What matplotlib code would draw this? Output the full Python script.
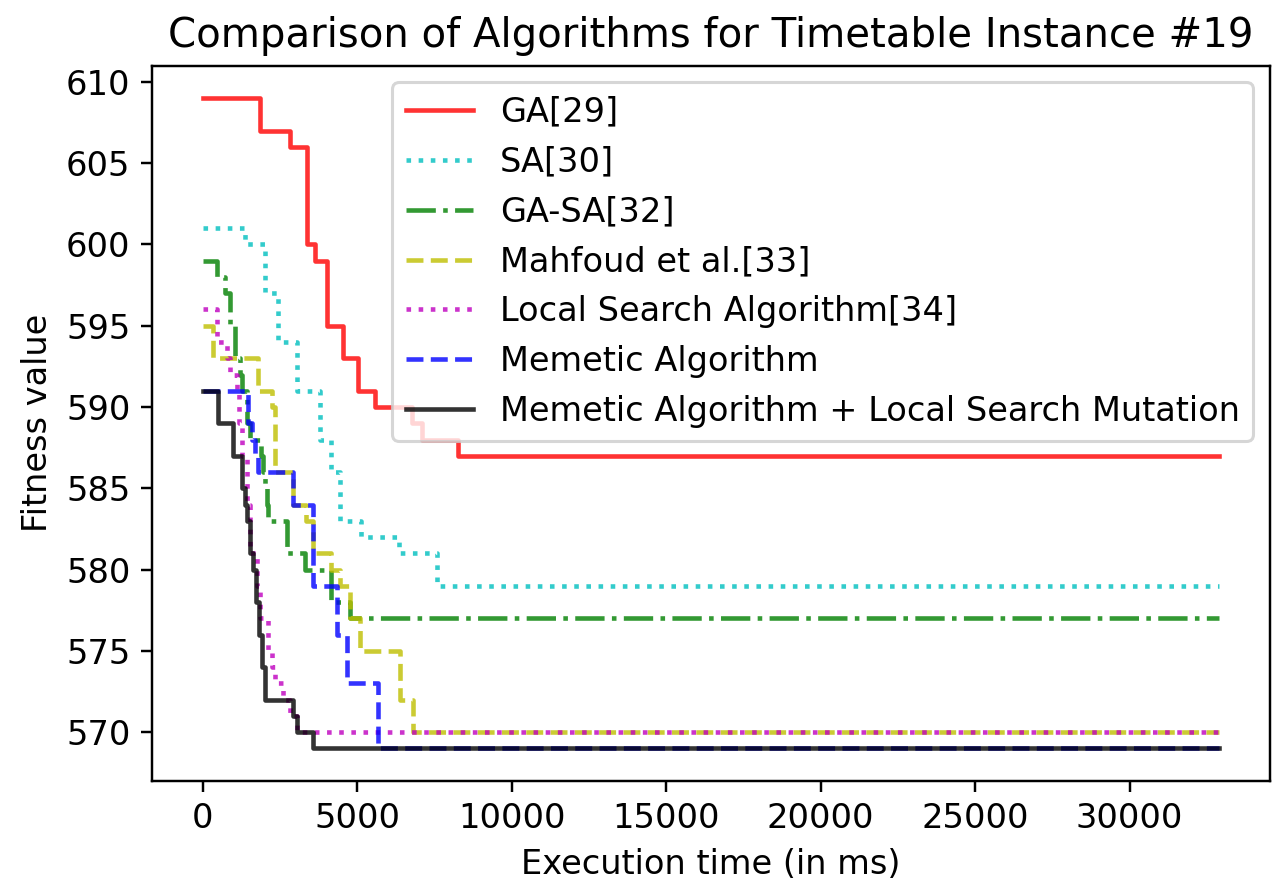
# comparacion de algoritmos - curvas de fitness escalonadas
import matplotlib
matplotlib.use("Agg")
import matplotlib.pyplot as plt

# tiempo final de la ejecucion (ms)
t_fin = 32900

# ---------------- datos ----------------
ga_x = [0, 1845, 2826, 3368, 3625, 4006, 4539, 5025, 5568, 6767, 7091, 8252, t_fin]
ga_y = [609, 607, 606, 600, 599, 595, 593, 591, 590, 589, 588, 587, 587]

sa_x = [0, 1360, 2007, 2445, 3064, 3778, 4159, 4444, 5111, 6348, 7586, t_fin]
sa_y = [601, 600, 597, 594, 591, 588, 586, 583, 582, 581, 579, 579]

gasa_x = [0, 446, 731, 874, 1036, 1198, 1255, 1445, 1541, 1874, 1940, 2017, 2064,
          2102, 2721, 3302, 4159, 4758, t_fin]
gasa_y = [599, 598, 597, 595, 593, 592, 591, 589, 588, 587, 586, 585, 584,
          583, 581, 580, 578, 577, 577]

mahfoud_x = [0, 332, 1779, 2226, 2350, 2921, 3349, 3559, 4159, 4444, 4758, 5082,
             6377, 6796, t_fin]
mahfoud_y = [595, 593, 591, 590, 586, 584, 583, 581, 580, 579, 577, 575,
             572, 570, 570]

ls_x = [0, 446, 779, 874, 1103, 1160, 1255, 1426, 1522, 1750, 1845, 2102, 2236,
        2331, 2588, 2826, 3045, t_fin]
ls_y = [596, 594, 593, 592, 591, 589, 587, 584, 581, 579, 577, 575, 574,
        573, 572, 571, 570, 570]

ma_x = [0, 1464, 1588, 1683, 1779, 2921, 3578, 4330, 4654, 5682, t_fin]
ma_y = [591, 589, 588, 587, 586, 584, 579, 576, 573, 569, 569]

mals_x = [0, 493, 979, 1255, 1350, 1445, 1541, 1636, 1731, 1826, 1921, 2007,
          2921, 3045, 3578, t_fin]
mals_y = [591, 589, 587, 585, 584, 583, 581, 580, 578, 576, 574, 572,
          571, 570, 569, 569]

etiquetas = ["GA[29]", "SA[30]", "GA-SA[32]", "Mahfoud et al.[33]",
             "Local Search Algorithm[34]", "Memetic Algorithm",
             "Memetic Algorithm + Local Search Mutation"]

# letra un poco mas grande que la de defecto
plt.rcParams["font.size"] = 11

# ---------------- figura ----------------
fig = plt.figure(figsize=(1274 / 220, 886 / 220), dpi=220)
ax = fig.add_axes([152 / 1274, 105 / 886, 1118 / 1274, 715.4 / 886])

series = [
    (ga_x, ga_y, "r", "-"),
    (sa_x, sa_y, "c", ":"),
    (gasa_x, gasa_y, "g", "-."),
    (mahfoud_x, mahfoud_y, "y", "--"),
    (ls_x, ls_y, "m", ":"),
    (ma_x, ma_y, "b", "--"),
    (mals_x, mals_y, "k", "-"),
]

# dibujar cada curva como escalon
for (xs, ys, color, estilo), nombre in zip(series, etiquetas):
    ax.step(xs, ys, where="post", color=color, linestyle=estilo, alpha=0.8, label=nombre)

ax.set_title("Comparison of Algorithms for Timetable Instance #19")
ax.set_xlabel("Execution time (in ms)")
ax.set_ylabel("Fitness value")
ax.legend(loc="upper right")

fig.savefig("out.png", dpi=220)
